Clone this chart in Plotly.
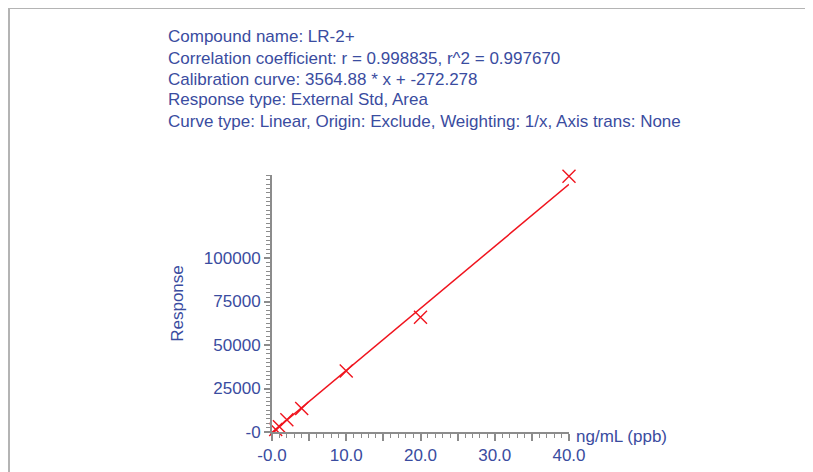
import plotly.graph_objects as go

# header text of the calibration report
header_lines = [
    "Compound name: LR-2+",
    "Correlation coefficient: r = 0.998835, r^2 = 0.997670",
    "Calibration curve: 3564.88 * x + -272.278",
    "Response type: External Std, Area",
    "Curve type: Linear, Origin: Exclude, Weighting: 1/x, Axis trans: None",
]

# calibration standards (ng/mL) and measured response
conc = [0.5, 1.0, 2.0, 4.0, 10.0, 20.0, 40.0]
response = [1500, 3000, 7000, 13500, 35000, 66000, 147000]

# fitted line from the shown equation
slope = 3564.88
intercept = -272.278
fit_x = [0.0, 40.0]
fit_y = [slope * v + intercept for v in fit_x]

x_tickvals = [0, 5, 10, 15, 20, 25, 30, 35, 40]
x_ticktext = ["-0.0", "", "10.0", "", "20.0", "", "30.0", "", "40.0"]
y_tickvals = [0, 25000, 50000, 75000, 100000]
y_ticktext = ["-0", "25000", "50000", "75000", "100000"]

BLUE = "#3a4ca0"
RED = "#f0141e"
GREY = "#8c8c8c"
OFF = 8  # page body margin
W, H = 813 - OFF, 472 - OFF
L, R, T, B = 272 - OFF, 569 - OFF, 175 - OFF, 432 - OFF  # plot area in pixels


def px_x(p):
    return (p - OFF - L) / (R - L)


def px_y(p):
    return (B - (p - OFF)) / (B - T)


fig = go.Figure()
fig.add_trace(go.Scatter(
    x=fit_x, y=fit_y, mode="lines",
    line={"color": RED, "width": 1.5},
    hoverinfo="skip",
))
fig.add_trace(go.Scatter(
    x=conc, y=response, mode="markers",
    marker={"symbol": "x-thin", "size": 13, "color": RED,
            "line": {"color": RED, "width": 1.4}},
    cliponaxis=False,
))

annotations = []
for i, line in enumerate(header_lines):
    annotations.append(dict(
        text=line, xref="paper", yref="paper",
        x=px_x(166), y=px_y(37 + 21 * i),
        xanchor="left", yanchor="middle", showarrow=False,
        font={"size": 17, "color": BLUE},
    ))
annotations.append(dict(
    text="ng/mL (ppb)", xref="paper", yref="paper",
    x=px_x(574), y=px_y(436), xanchor="left", yanchor="middle",
    showarrow=False, font={"size": 17, "color": BLUE},
))

fig.update_layout(
    width=W, height=H,
    margin={"l": L, "r": W - R, "t": T, "b": H - B, "pad": 0},
    plot_bgcolor="white", paper_bgcolor="white",
    showlegend=False,
    font={"family": "Liberation Sans, Arial, sans-serif", "size": 17, "color": BLUE},
    annotations=annotations,
    shapes=[
        dict(type="line", xref="paper", yref="paper",
             x0=px_x(9), x1=px_x(813), y0=px_y(8), y1=px_y(8),
             line={"color": "#b4b4b4", "width": 2}),
        dict(type="line", xref="paper", yref="paper",
             x0=px_x(9), x1=px_x(9), y0=px_y(8), y1=px_y(472),
             line={"color": "#b4b4b4", "width": 2}),
    ],
)

fig.update_xaxes(
    range=[0, 40], showgrid=False, zeroline=False, automargin=False,
    showline=True, linecolor=GREY, linewidth=2,
    tickmode="array", tickvals=x_tickvals, ticktext=x_ticktext,
    ticks="outside", ticklen=7, tickwidth=1.5, tickcolor=GREY,
    tickfont={"size": 17, "color": BLUE},
    minor={"dtick": 1, "ticks": "outside", "ticklen": 4,
           "tickcolor": GREY, "tickwidth": 1},
)
fig.update_yaxes(
    range=[0, 147700], showgrid=False, zeroline=False, automargin=False,
    showline=True, linecolor=GREY, linewidth=2,
    tickmode="array", tickvals=y_tickvals, ticktext=y_ticktext,
    ticks="outside", ticklen=6, tickwidth=1.5, tickcolor=GREY,
    tickfont={"size": 17, "color": BLUE},
    minor={"dtick": 2500, "ticks": "outside", "ticklen": 4,
           "tickcolor": GREY, "tickwidth": 1},
    title={"text": "Response", "font": {"size": 17, "color": BLUE}, "standoff": 16},
)

fig.write_html("out.html")
